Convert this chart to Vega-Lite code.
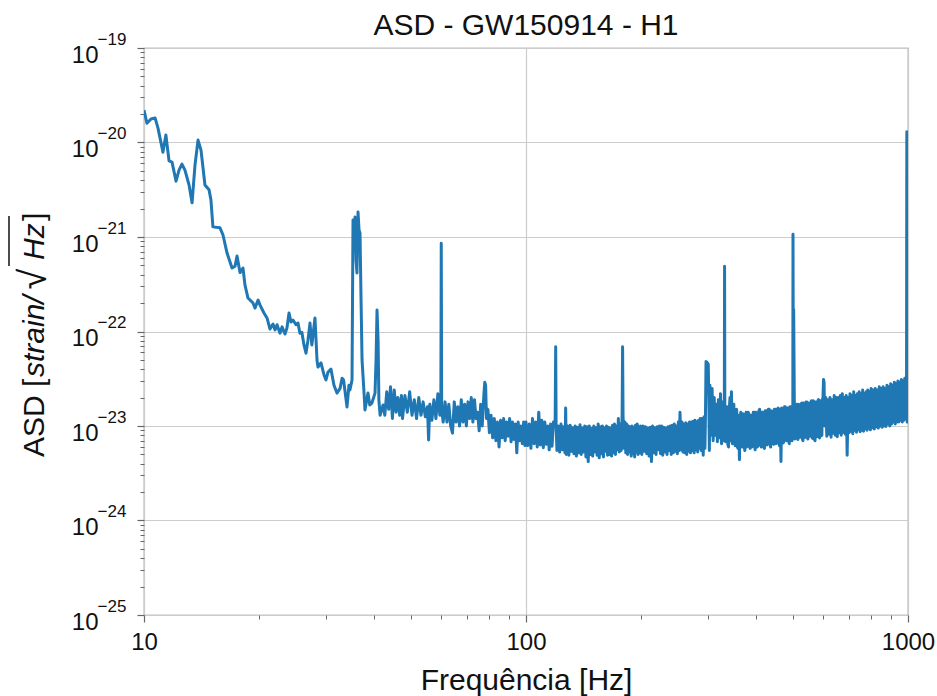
{
"$schema": "https://vega.github.io/schema/vega-lite/v6.json",
"width": 764, "height": 567,
"autosize": {"type": "none"},
"padding": {"left": 144, "top": 48, "right": 29, "bottom": 81},
"background": "white",
"config": {"view": {"stroke": "#808080", "strokeWidth": 1.2}, "font": "Liberation Sans"},
"datasets": {
"asd": [
{"f":10,"a":2.2e-20},{"f":10.18,"a":1.6e-20},{"f":10.43,"a":1.77e-20},{"f":10.69,"a":1.82e-20},{"f":10.88,"a":1.42e-20},{"f":11.21,"a":7.9e-21},{"f":11.35,"a":1.06e-20},{"f":11.41,"a":1.2e-20},{"f":11.63,"a":6.4e-21},{"f":11.84,"a":6.2e-21},{"f":12.13,"a":3.9e-21},{"f":12.35,"a":5.1e-21},{"f":12.57,"a":5.9e-21},{"f":12.8,"a":5.1e-21},{"f":13.12,"a":3.55e-21},{"f":13.36,"a":2.3e-21},{"f":13.6,"a":5.8e-21},{"f":13.85,"a":1.06e-20},{"f":14.1,"a":8.3e-21},{"f":14.44,"a":3.55e-21},{"f":14.8,"a":3.16e-21},{"f":14.97,"a":2.47e-21},{"f":15.15,"a":1.28e-21},{"f":15.81,"a":1.25e-21},{"f":16.1,"a":1.05e-21},{"f":16.49,"a":6.8e-22},{"f":17.0,"a":4.7e-22},{"f":17.31,"a":4.9e-22},{"f":17.52,"a":6.3e-22},{"f":17.84,"a":4.2e-22},{"f":18.16,"a":4.7e-22},{"f":18.38,"a":3.1e-22},{"f":18.72,"a":2.26e-22},{"f":19.29,"a":2.0e-22},{"f":19.53,"a":1.77e-22},{"f":19.89,"a":2.15e-22},{"f":20.13,"a":1.9e-22},{"f":20.61,"a":1.57e-22},{"f":20.99,"a":1.39e-22},{"f":21.37,"a":1.06e-22},{"f":21.76,"a":1.2e-22},{"f":22.03,"a":1.04e-22},{"f":22.3,"a":1.18e-22},{"f":22.7,"a":9.6e-23},{"f":22.98,"a":1.12e-22},{"f":23.39,"a":9.4e-23},{"f":23.67,"a":1.09e-22},{"f":23.97,"a":1.57e-22},{"f":24.26,"a":1.26e-22},{"f":24.55,"a":1.32e-22},{"f":25.0,"a":1.18e-22},{"f":25.3,"a":1.23e-22},{"f":25.6,"a":9.6e-23},{"f":25.9,"a":9.8e-23},{"f":26.23,"a":7.2e-23},{"f":26.55,"a":5.9e-23},{"f":26.87,"a":8.1e-23},{"f":27.2,"a":1.23e-22},{"f":27.5,"a":7.2e-23},{"f":28.03,"a":1.39e-22},{"f":28.37,"a":5.0e-23},{"f":28.54,"a":4.2e-23},{"f":29.06,"a":4.65e-23},{"f":29.6,"a":3.47e-23},{"f":29.95,"a":3.07e-23},{"f":30.3,"a":3.7e-23},{"f":30.86,"a":4.0e-23},{"f":31.43,"a":2.7e-23},{"f":32.0,"a":2.23e-23},{"f":32.6,"a":2.5e-23},{"f":33.0,"a":3.2e-23},{"f":33.3,"a":3.07e-23},{"f":34.0,"a":1.59e-23},{"f":34.4,"a":2.7e-23},{"f":34.6,"a":2.4e-23},{"f":35.04,"a":3.07e-23},{"f":35.25,"a":1.51e-21},{"f":35.5,"a":7.3e-22},{"f":35.68,"a":1.63e-21},{"f":35.9,"a":5.7e-22},{"f":36.1,"a":4.16e-22},{"f":36.33,"a":1.84e-21},{"f":36.55,"a":1.19e-21},{"f":36.77,"a":1.1e-21},{"f":37.0,"a":2.15e-22},{"f":37.22,"a":5.0e-23},{"f":37.7,"a":2.13e-23},{"f":37.88,"a":1.48e-23},{"f":38.58,"a":2.23e-23},{"f":39.0,"a":1.67e-23},{"f":39.5,"a":1.75e-23},{"f":40.25,"a":2.23e-23},{"f":40.5,"a":5e-23},{"f":40.74,"a":1.69e-22},{"f":41.0,"a":8.1e-23},{"f":41.2,"a":1.88e-23},{"f":41.5,"a":1.3e-23},{"f":42.25,"a":1.67e-23},
{"f":42.7,"a":1.3e-23},{"f":43.2,"a":2.3e-23},{"f":43.7,"a":1.5e-23},{"f":44.2,"a":2.6e-23},{"f":44.7,"a":1.2e-23},{"f":45.2,"a":2.4e-23},{"f":45.7,"a":1.4e-23},{"f":46.2,"a":2.0e-23},{"f":46.7,"a":1.3e-23},{"f":47.2,"a":2.1e-23},
{"f":47.5,"a":1.2e-23},{"f":48.2,"a":2.1e-23},{"f":48.9,"a":1.4e-23},{"f":49.6,"a":2.3e-23},{"f":50.3,"a":1.3e-23},{"f":51.0,"a":1.9e-23},{"f":51.7,"a":1.2e-23},{"f":52.4,"a":2.0e-23},{"f":53.1,"a":1.3e-23},{"f":53.8,"a":1.8e-23},{"f":54.5,"a":1.25e-23},{"f":55.2,"a":1.6e-23},{"f":55.6,"a":7.1e-24},{"f":56.0,"a":1.7e-23},{"f":56.7,"a":1.15e-23},{"f":57.4,"a":1.9e-23},{"f":58.1,"a":1.2e-23},{"f":58.8,"a":2.2e-23},{"f":59.5,"a":1.3e-23},{"f":59.85,"a":1.6e-23},{"f":60.0,"a":8.6e-22},{"f":60.15,"a":1.5e-23},{"f":60.7,"a":1.1e-23},{"f":61.4,"a":1.8e-23},{"f":62.1,"a":1.1e-23},{"f":62.8,"a":1.7e-23},{"f":63.5,"a":1.0e-23},{"f":64.2,"a":8.4e-24},{"f":64.9,"a":1.8e-23},{"f":65.6,"a":1.1e-23},{"f":66.3,"a":1.6e-23},{"f":67.0,"a":1.0e-23},{"f":67.7,"a":1.9e-23},{"f":68.4,"a":1.1e-23},{"f":69.1,"a":1.7e-23},{"f":69.8,"a":1.0e-23},{"f":70.5,"a":1.8e-23},{"f":71.2,"a":1.2e-23},{"f":71.9,"a":2.0e-23},{"f":72.6,"a":1.1e-23},{"f":73.3,"a":1.9e-23},{"f":74.0,"a":1.2e-23},{"f":74.7,"a":1.4e-23},{"f":75.4,"a":8.9e-24},{"f":76.1,"a":1.7e-23},{"f":76.8,"a":1.0e-23},{"f":77.6,"a":2.2e-23},{"f":78.0,"a":2.9e-23},{"f":78.4,"a":2.7e-23},{"f":78.8,"a":1.2e-23},{"f":79.5,"a":1.5e-23},{"f":80.2,"a":8.5e-24},{"f":81.0,"a":1.3e-23},{"f":81.8,"a":7.5e-24},{"f":82.6,"a":1.2e-23},{"f":83.4,"a":7.0e-24},{"f":84.2,"a":1.1e-23},{"f":85.0,"a":6.0e-24},{"f":85.8,"a":1.15e-23},{"f":86.6,"a":7.5e-24},{"f":87.4,"a":1.2e-23},{"f":88.2,"a":7.0e-24},{"f":89.0,"a":1.1e-23},{"f":89.8,"a":7.8e-24},{"f":90.6,"a":1.2e-23},{"f":91.4,"a":6.8e-24},{"f":92.2,"a":1.1e-23},{"f":93.0,"a":7.2e-24},{"f":93.8,"a":1.05e-23},{"f":94.6,"a":5.2e-24},{"f":95.4,"a":1.1e-23},{"f":96.2,"a":7.0e-24},{"f":97.0,"a":1.0e-23},{"f":97.8,"a":6.5e-24},{"f":98.6,"a":1.1e-23},{"f":99.4,"a":6.2e-24},
{"f":100,"a":1.1e-23},{"f":101,"a":6.2e-24},{"f":102,"a":1.05e-23},{"f":103,"a":5.8e-24},{"f":104,"a":1.2e-23},{"f":105,"a":6.5e-24},{"f":106,"a":1.1e-23},{"f":107,"a":6.0e-24},{"f":108,"a":1.4e-23},{"f":109,"a":6.3e-24},{"f":110,"a":1.15e-23},{"f":111,"a":5.9e-24},{"f":112,"a":1.1e-23},{"f":113,"a":6.4e-24},{"f":114,"a":1.0e-23},{"f":115,"a":5.6e-24},{"f":116,"a":1.05e-23},{"f":117,"a":6.1e-24},{"f":118,"a":1.1e-23},{"f":119.2,"a":1.0e-23},{"f":119.6,"a":6.9e-23},{"f":119.9,"a":1.0e-23},{"f":120.5,"a":5.5e-24},{"f":121.5,"a":1.0e-23},{"f":122.5,"a":5.3e-24},{"f":123.5,"a":1.05e-23},{"f":124.5,"a":5.6e-24},{"f":125.5,"a":9.8e-24},{"f":126.5,"a":5.2e-24},{"f":127,"a":1.55e-23},{"f":127.5,"a":5.0e-24},{"f":128.5,"a":1.0e-23},{"f":129.5,"a":4.9e-24},{"f":130.5,"a":1.02e-23},{"f":131.5,"a":5.4e-24},{"f":132.5,"a":9.6e-24},{"f":133.5,"a":5.1e-24},{"f":134.5,"a":1.0e-23},{"f":135.5,"a":4.8e-24},{"f":136.5,"a":9.7e-24},{"f":137.5,"a":5.2e-24},{"f":138.5,"a":1.03e-23},{"f":139.5,"a":5.0e-24},{"f":140.5,"a":9.5e-24},{"f":141.5,"a":5.3e-24},{"f":142.5,"a":1.0e-23},{"f":143.5,"a":4.7e-24},{"f":144.5,"a":9.8e-24},{"f":145.5,"a":4.2e-24},{"f":146.5,"a":1.0e-23},{"f":147.5,"a":5.0e-24},{"f":148.5,"a":9.4e-24},{"f":149.5,"a":4.8e-24},{"f":150.5,"a":1.0e-23},{"f":151.5,"a":5.3e-24},{"f":152.5,"a":9.6e-24},{"f":153.5,"a":4.9e-24},{"f":154.5,"a":1.05e-23},{"f":155.5,"a":4.6e-24},{"f":156.5,"a":9.8e-24},{"f":157.5,"a":5.1e-24},{"f":158.5,"a":1.0e-23},{"f":159.5,"a":4.7e-24},{"f":160.5,"a":9.5e-24},{"f":161.5,"a":5.4e-24},{"f":162.5,"a":1.0e-23},{"f":163.5,"a":4.9e-24},{"f":164.5,"a":9.7e-24},{"f":165.5,"a":5.0e-24},{"f":166.5,"a":9.5e-24},{"f":167.5,"a":4.8e-24},{"f":168.5,"a":1.02e-23},{"f":169.5,"a":5.2e-24},{"f":170.5,"a":1.05e-23},{"f":171.5,"a":5.0e-24},{"f":172.5,"a":1.0e-23},{"f":173.5,"a":5.6e-24},{"f":174.5,"a":1.2e-23},{"f":175.5,"a":5.3e-24},{"f":176.5,"a":1.05e-23},{"f":177.5,"a":5.5e-24},{"f":178.5,"a":1.3e-23},{"f":179.0,"a":6.9e-23},{"f":179.5,"a":1.3e-23},{"f":180.5,"a":5.8e-24},{"f":181.5,"a":1.1e-23},{"f":182.5,"a":5.2e-24},{"f":183.5,"a":1.05e-23},{"f":184.5,"a":5.0e-24},{"f":185.5,"a":1.0e-23},{"f":186.5,"a":5.3e-24},{"f":187.5,"a":9.8e-24},{"f":188.5,"a":4.8e-24},{"f":189.5,"a":1.0e-23},{"f":190.5,"a":5.1e-24},{"f":191.5,"a":9.6e-24},{"f":192.5,"a":4.7e-24},{"f":193.5,"a":1.02e-23},{"f":194.5,"a":5.3e-24},{"f":195.5,"a":1.05e-23},{"f":196.5,"a":5.0e-24},{"f":197.5,"a":9.8e-24},{"f":198.5,"a":5.2e-24},{"f":199.5,"a":1.0e-23},
{"f":201,"a":5.0e-24},{"f":202.5,"a":1.0e-23},{"f":204,"a":5.4e-24},{"f":205.5,"a":9.8e-24},{"f":207,"a":5.1e-24},{"f":208.5,"a":9.5e-24},{"f":210,"a":4.8e-24},{"f":211.5,"a":9.7e-24},{"f":213,"a":4.2e-24},{"f":214.5,"a":1.0e-23},{"f":216,"a":5.2e-24},{"f":217.5,"a":9.6e-24},{"f":219,"a":5.0e-24},{"f":220.5,"a":9.8e-24},{"f":222,"a":5.6e-24},{"f":223.5,"a":1.0e-23},{"f":225,"a":5.1e-24},{"f":226.5,"a":1.0e-23},{"f":228,"a":4.9e-24},{"f":229.5,"a":9.7e-24},{"f":231,"a":5.3e-24},{"f":232.5,"a":9.5e-24},{"f":234,"a":5.0e-24},{"f":235.5,"a":9.8e-24},{"f":237,"a":5.5e-24},{"f":238.5,"a":1.0e-23},{"f":240,"a":5.0e-24},{"f":241.5,"a":1.02e-23},{"f":243,"a":5.2e-24},{"f":244.5,"a":1.05e-23},{"f":246,"a":5.4e-24},{"f":247.5,"a":1.0e-23},{"f":249,"a":5.1e-24},{"f":250.5,"a":1.1e-23},{"f":252,"a":5.5e-24},{"f":253,"a":1.4e-23},{"f":254.5,"a":5.6e-24},{"f":256,"a":1.1e-23},{"f":257.5,"a":5.3e-24},{"f":259,"a":1.05e-23},{"f":260.5,"a":5.2e-24},{"f":262,"a":1.08e-23},{"f":263.5,"a":5.0e-24},{"f":265,"a":1.05e-23},{"f":266.5,"a":5.4e-24},{"f":268,"a":1.1e-23},{"f":269.5,"a":5.2e-24},{"f":271,"a":1.1e-23},{"f":272.5,"a":5.5e-24},{"f":274,"a":1.12e-23},{"f":275.5,"a":5.2e-24},{"f":277,"a":1.15e-23},{"f":278.5,"a":5.6e-24},{"f":280,"a":1.1e-23},{"f":281.5,"a":5.3e-24},{"f":283,"a":1.15e-23},{"f":284.5,"a":5.8e-24},{"f":286,"a":1.2e-23},{"f":287.5,"a":5.5e-24},{"f":289,"a":1.2e-23},{"f":291,"a":4.9e-24},{"f":292.5,"a":1.25e-23},{"f":294,"a":5.8e-24},{"f":295,"a":1.3e-23},
{"f":296,"a":4.8e-23},{"f":298,"a":4.7e-23},{"f":300,"a":4.5e-23},{"f":301,"a":2.0e-23},{"f":302,"a":5.5e-24},{"f":303,"a":2.7e-23},{"f":305,"a":8e-24},{"f":307,"a":2.5e-23},{"f":309,"a":7e-24},{"f":311,"a":2.0e-23},{"f":313,"a":8e-24},{"f":315,"a":1.7e-23},{"f":317,"a":6.8e-24},{"f":319,"a":1.9e-23},{"f":321,"a":7.5e-24},{"f":323,"a":2.2e-23},{"f":325,"a":6.5e-24},{"f":327,"a":1.8e-23},{"f":329,"a":7e-24},{"f":330.5,"a":1.6e-23},{"f":331,"a":4.9e-22},{"f":331.5,"a":1.5e-23},{"f":333,"a":6.8e-24},{"f":334.5,"a":1.4e-23},{"f":336,"a":1.6e-23},{"f":337.5,"a":6.4e-24},{"f":339,"a":6.0e-24},{"f":340.5,"a":1.5e-23},{"f":342,"a":2.0e-23},{"f":343.5,"a":7.0e-24},{"f":345,"a":2.3e-23},{"f":347,"a":6.5e-24},{"f":348.5,"a":1.5e-23},{"f":350,"a":1.7e-23},{"f":351.5,"a":6.8e-24},{"f":353,"a":6.2e-24},{"f":354.5,"a":1.4e-23},{"f":356,"a":1.5e-23},{"f":357.5,"a":6.0e-24},{"f":359,"a":5.8e-24},{"f":360.5,"a":1.3e-23},{"f":362,"a":4.4e-24},{"f":363.5,"a":1.2e-23},{"f":365,"a":1.4e-23},{"f":366.5,"a":6.3e-24},{"f":368,"a":6.0e-24},{"f":369.5,"a":1.35e-23},{"f":371,"a":1.3e-23},{"f":372.5,"a":6.2e-24},{"f":374,"a":5.5e-24},{"f":375.5,"a":1.3e-23},{"f":377,"a":1.4e-23},{"f":378.5,"a":6.0e-24},{"f":380,"a":6.2e-24},{"f":381.5,"a":1.4e-23},{"f":383,"a":1.35e-23},{"f":384.5,"a":6.1e-24},{"f":386,"a":5.8e-24},{"f":387.5,"a":1.3e-23},{"f":389,"a":1.3e-23},{"f":390.5,"a":6.0e-24},{"f":392,"a":6.4e-24},{"f":393.5,"a":1.4e-23},{"f":395,"a":1.4e-23},{"f":396.5,"a":6.2e-24},{"f":398,"a":5.6e-24},{"f":399.5,"a":1.4e-23},{"f":401,"a":1.35e-23},{"f":403,"a":6.0e-24},{"f":405,"a":6.2e-24},{"f":407,"a":1.45e-23},{"f":409,"a":1.5e-23},{"f":411,"a":6.4e-24},{"f":413,"a":6.0e-24},{"f":415,"a":1.4e-23},{"f":417,"a":1.4e-23},{"f":419,"a":6.1e-24},{"f":421,"a":5.8e-24},{"f":423,"a":1.45e-23},{"f":425,"a":1.45e-23},{"f":427,"a":6.3e-24},{"f":429,"a":6.5e-24},{"f":431,"a":1.5e-23},{"f":433,"a":1.5e-23},{"f":435,"a":6.4e-24},{"f":437,"a":6.0e-24},{"f":439,"a":1.45e-23},{"f":441,"a":1.4e-23},{"f":443,"a":6.6e-24},{"f":445,"a":6.4e-24},{"f":447,"a":1.5e-23},{"f":449,"a":1.5e-23},{"f":451,"a":6.5e-24},{"f":453,"a":6.6e-24},{"f":455,"a":1.5e-23},{"f":457,"a":1.55e-23},{"f":459,"a":6.8e-24},{"f":461,"a":6.2e-24},{"f":463,"a":1.5e-23},{"f":465,"a":4.2e-24},{"f":467,"a":1.55e-23},{"f":469,"a":1.5e-23},{"f":471,"a":6.6e-24},{"f":473,"a":6.8e-24},{"f":475,"a":1.6e-23},{"f":477,"a":1.6e-23},{"f":479,"a":7.1e-24},{"f":481,"a":7.0e-24},{"f":483,"a":1.55e-23},{"f":485,"a":1.55e-23},{"f":487,"a":6.9e-24},{"f":489,"a":6.5e-24},{"f":491,"a":1.6e-23},{"f":493,"a":1.6e-23},{"f":495,"a":7.2e-24},{"f":497,"a":7.0e-24},{"f":499.5,"a":1.6e-23},{"f":500,"a":1.07e-21},{"f":501,"a":2.0e-23},{"f":502,"a":1.7e-22},{"f":504,"a":1.7e-23},{"f":505.5,"a":7.3e-24},{"f":507,"a":7.5e-24},{"f":509,"a":1.65e-23},{"f":511,"a":1.7e-23},{"f":513,"a":7.4e-24},{"f":515,"a":7.2e-24},{"f":517,"a":1.7e-23},{"f":519,"a":1.65e-23},{"f":521,"a":7.6e-24},{"f":523,"a":7.8e-24},{"f":525,"a":1.7e-23},{"f":527,"a":1.75e-23},{"f":529,"a":7.3e-24},{"f":531,"a":7.0e-24},{"f":533,"a":1.75e-23},{"f":535,"a":1.7e-23},{"f":537,"a":7.7e-24},{"f":539,"a":7.6e-24},{"f":541,"a":1.8e-23},{"f":543,"a":1.8e-23},{"f":545,"a":7.5e-24},{"f":547,"a":7.3e-24},{"f":549,"a":1.75e-23},{"f":551,"a":1.7e-23},{"f":553,"a":7.8e-24},{"f":555,"a":7.9e-24},{"f":557,"a":1.8e-23},{"f":559,"a":1.85e-23},{"f":561,"a":7.5e-24},{"f":563,"a":7.4e-24},{"f":565,"a":1.85e-23},{"f":567,"a":1.8e-23},{"f":569,"a":7.2e-24},{"f":571,"a":7.0e-24},{"f":573,"a":1.8e-23},{"f":575,"a":1.75e-23},{"f":577,"a":7.7e-24},{"f":579,"a":7.8e-24},{"f":581,"a":1.85e-23},{"f":583,"a":1.9e-23},{"f":585,"a":7.6e-24},{"f":587,"a":7.5e-24},{"f":589,"a":1.85e-23},{"f":591,"a":1.8e-23},{"f":593,"a":7.9e-24},{"f":595,"a":8e-24},{"f":597,"a":1.9e-23},{"f":599,"a":2.0e-23},{"f":601,"a":3.1e-23},{"f":603,"a":2.9e-23},{"f":605,"a":1.0e-23},{"f":609,"a":2.0e-23},{"f":613,"a":7.8e-24},{"f":617,"a":1.9e-23},{"f":621,"a":8.2e-24},{"f":625,"a":2.0e-23},{"f":629,"a":7.6e-24},{"f":633,"a":1.9e-23},{"f":637,"a":8.4e-24},{"f":641,"a":2.1e-23},{"f":645,"a":8.0e-24},{"f":649,"a":2.0e-23},{"f":653,"a":7.7e-24},{"f":657,"a":2.0e-23},{"f":661,"a":8.5e-24},{"f":665,"a":2.1e-23},{"f":669,"a":8.0e-24},{"f":673,"a":2.2e-23},{"f":677,"a":8.6e-24},{"f":681,"a":2.0e-23},{"f":685,"a":8.2e-24},{"f":689,"a":2.1e-23},{"f":693,"a":4.9e-24},{"f":697,"a":2.0e-23},{"f":701,"a":8.5e-24},{"f":705,"a":2.2e-23},{"f":709,"a":8.8e-24},{"f":713,"a":2.1e-23},{"f":717,"a":8.3e-24},{"f":721,"a":2.3e-23},{"f":725,"a":9.0e-24},{"f":729,"a":2.1e-23},{"f":733,"a":8.6e-24},{"f":737,"a":2.2e-23},{"f":741,"a":9.2e-24},{"f":745,"a":2.3e-23},{"f":749,"a":8.7e-24},{"f":753,"a":2.2e-23},{"f":757,"a":9.0e-24},{"f":761,"a":2.4e-23},{"f":765,"a":8.8e-24},{"f":769,"a":2.2e-23},{"f":773,"a":9.4e-24},{"f":777,"a":2.3e-23},{"f":781,"a":9.0e-24},{"f":785,"a":2.4e-23},{"f":789,"a":9.5e-24},{"f":793,"a":2.3e-23},{"f":797,"a":9.1e-24},{"f":801,"a":2.5e-23},{"f":806,"a":9.6e-24},{"f":811,"a":2.4e-23},{"f":816,"a":9.3e-24},{"f":821,"a":2.5e-23},{"f":826,"a":9.8e-24},{"f":831,"a":2.4e-23},{"f":836,"a":9.5e-24},{"f":841,"a":2.6e-23},{"f":846,"a":1.0e-23},{"f":851,"a":2.5e-23},{"f":856,"a":9.7e-24},{"f":861,"a":2.6e-23},{"f":866,"a":1.0e-23},{"f":871,"a":2.5e-23},{"f":876,"a":9.9e-24},{"f":881,"a":2.7e-23},{"f":886,"a":1.05e-23},{"f":891,"a":2.6e-23},{"f":896,"a":1.0e-23},{"f":901,"a":2.8e-23},{"f":906,"a":1.05e-23},{"f":911,"a":2.7e-23},{"f":916,"a":1.1e-23},{"f":921,"a":2.9e-23},{"f":926,"a":1.05e-23},{"f":931,"a":2.8e-23},{"f":936,"a":1.1e-23},{"f":941,"a":3.0e-23},{"f":946,"a":1.1e-23},{"f":951,"a":2.9e-23},{"f":956,"a":1.15e-23},{"f":961,"a":3.1e-23},{"f":966,"a":1.1e-23},{"f":971,"a":3.0e-23},{"f":976,"a":1.15e-23},{"f":981,"a":3.2e-23},{"f":985,"a":1.2e-23},{"f":989,"a":3.3e-23},{"f":991,"a":1.2e-23},{"f":993,"a":1.3e-20},{"f":995,"a":1.1e-23},{"f":997,"a":3.2e-23},{"f":1000,"a":1.1e-23}
],
"dec": [{"f":10,"v":1e-19},{"f":100,"v":1e-20},{"f":1000,"v":1e-21},{"f":10,"v":1e-22},{"f":100,"v":1e-23},{"f":1000,"v":1e-24},{"f":10,"v":1e-25}]
},
"resolve": {"scale": {"x": "shared", "y": "shared"}, "axis": {"x": "independent", "y": "independent"}},
"layer": [
{
"data": {"name": "asd"},
"mark": {"type": "line", "color": "#1f77b4", "strokeWidth": 3, "strokeJoin": "round", "clip": true},
"encoding": {
"x": {"field": "f", "type": "quantitative", "scale": {"type": "log", "domain": [10, 1000]},
 "axis": {"orient": "bottom", "values": [10, 100, 1000], "labelExpr": "'' + datum.value", "domain": false, "grid": true, "gridColor": "#cccccc", "gridWidth": 1.2, "ticks": true, "tickSize": 7, "tickColor": "#666", "tickWidth": 1.2, "labelFontSize": 24, "labelColor": "#111", "labelFont": "Liberation Sans", "labelPadding": 8, "labelFlush": false, "labelOverlap": false, "title": "Frequência [Hz]", "titleFontSize": 30, "titleFontWeight": "normal", "titleColor": "#111", "titleFont": "Liberation Sans", "titleBaseline": "alphabetic", "titleY": 74}},
"y": {"field": "a", "type": "quantitative", "scale": {"type": "log", "domain": [1e-25, 1e-19]},
 "axis": {"orient": "left", "values": [1e-25, 1e-24, 1e-23, 1e-22, 1e-21, 1e-20, 1e-19], "labelExpr": "'10'", "domain": false, "grid": true, "gridColor": "#cccccc", "gridWidth": 1.2, "ticks": true, "tickSize": 7, "tickColor": "#666", "tickWidth": 1.2, "labelFontSize": 24, "labelColor": "#111", "labelFont": "Liberation Sans", "labelAlign": "right", "labelBaseline": "alphabetic", "labelOffset": 14, "labelPadding": 39, "labelFlush": false, "labelOverlap": false, "title": null}}
}
},
{
"data": {"name": "dec"},
"mark": {"type": "point", "opacity": 0},
"encoding": {
"x": {"field": "f", "type": "quantitative", "axis": {"orient": "bottom", "values": [20,30,40,50,60,70,80,90,200,300,400,500,600,700,800,900], "labels": false, "domain": false, "grid": false, "ticks": true, "tickSize": 4, "tickColor": "#666", "tickWidth": 1, "title": null}},
"y": {"field": "v", "type": "quantitative", "axis": {"orient": "left", "values": [2e-25,3e-25,4e-25,5e-25,6e-25,7e-25,8e-25,9e-25,2e-24,3e-24,4e-24,5e-24,6e-24,7e-24,8e-24,9e-24,2e-23,3e-23,4e-23,5e-23,6e-23,7e-23,8e-23,9e-23,2e-22,3e-22,4e-22,5e-22,6e-22,7e-22,8e-22,9e-22,2e-21,3e-21,4e-21,5e-21,6e-21,7e-21,8e-21,9e-21,2e-20,3e-20,4e-20,5e-20,6e-20,7e-20,8e-20,9e-20], "labels": false, "domain": false, "grid": false, "ticks": true, "tickSize": 4, "tickColor": "#666", "tickWidth": 1, "title": null}}
}
},
{
"data": {"name": "dec"},
"mark": {"type": "point", "opacity": 0},
"encoding": {
"x": {"field": "f", "type": "quantitative", "axis": null},
"y": {"field": "v", "type": "quantitative", "axis": {"orient": "left", "values": [1e-25, 1e-24, 1e-23, 1e-22, 1e-21, 1e-20, 1e-19], "labelExpr": "'\u2212' + round(-log(datum.value) / LN10)", "domain": false, "grid": false, "ticks": true, "tickSize": 0, "labelFontSize": 17, "labelColor": "#111", "labelFont": "Liberation Sans", "labelAlign": "left", "labelBaseline": "alphabetic", "labelOffset": -4, "labelPadding": 47, "labelFlush": false, "labelOverlap": false, "title": null}}
}
},
{
"data": {"values": [{"t": "ASD - GW150914 - H1"}]},
"mark": {"type": "text", "align": "center", "baseline": "alphabetic", "fontSize": 30, "font": "Liberation Sans", "dy": -13, "color": "#111"},
"encoding": {"x": {"datum": 100, "type": "quantitative", "axis": null}, "y": {"datum": 1e-19, "type": "quantitative", "axis": null}, "text": {"field": "t"}}
},
{
"data": {"values": [{"t": "ASD ["}]},
"mark": {"type": "text", "angle": 270, "align": "left", "baseline": "alphabetic", "fontSize": 30, "font": "Liberation Sans", "dx": -125.5, "dy": -100, "color": "#111"},
"encoding": {"x": {"datum": 10, "type": "quantitative", "axis": null}, "y": {"datum": 1e-22, "type": "quantitative", "axis": null}, "text": {"field": "t"}}
},
{
"data": {"values": [{"t": "strain/"}]},
"mark": {"type": "text", "angle": 270, "align": "left", "baseline": "alphabetic", "fontSize": 30, "fontStyle": "italic", "font": "Liberation Sans", "dx": -45.5, "dy": -100, "color": "#111"},
"encoding": {"x": {"datum": 10, "type": "quantitative", "axis": null}, "y": {"datum": 1e-22, "type": "quantitative", "axis": null}, "text": {"field": "t"}}
},
{
"data": {"values": [{"t": "\u221a"}]},
"mark": {"type": "text", "angle": 270, "align": "left", "baseline": "alphabetic", "fontSize": 38, "font": "Liberation Sans", "dx": 42, "dy": -98, "color": "#111"},
"encoding": {"x": {"datum": 10, "type": "quantitative", "axis": null}, "y": {"datum": 1e-22, "type": "quantitative", "axis": null}, "text": {"field": "t"}}
},
{
"data": {"values": [{"t": "Hz"}]},
"mark": {"type": "text", "angle": 270, "align": "left", "baseline": "alphabetic", "fontSize": 30, "fontStyle": "italic", "font": "Liberation Sans", "dx": 71.5, "dy": -100, "color": "#111"},
"encoding": {"x": {"datum": 10, "type": "quantitative", "axis": null}, "y": {"datum": 1e-22, "type": "quantitative", "axis": null}, "text": {"field": "t"}}
},
{
"data": {"values": [{"t": "]"}]},
"mark": {"type": "text", "angle": 270, "align": "left", "baseline": "alphabetic", "fontSize": 30, "font": "Liberation Sans", "dx": 110.5, "dy": -100, "color": "#111"},
"encoding": {"x": {"datum": 10, "type": "quantitative", "axis": null}, "y": {"datum": 1e-22, "type": "quantitative", "axis": null}, "text": {"field": "t"}}
},
{
"data": {"values": [{"lo": 4.93e-22, "hi": 1.67e-21}]},
"mark": {"type": "rule", "color": "#111", "strokeWidth": 1.5, "xOffset": -135},
"encoding": {"x": {"datum": 10, "type": "quantitative", "axis": null}, "y": {"field": "lo", "type": "quantitative", "axis": null}, "y2": {"field": "hi"}}
}
]
}
